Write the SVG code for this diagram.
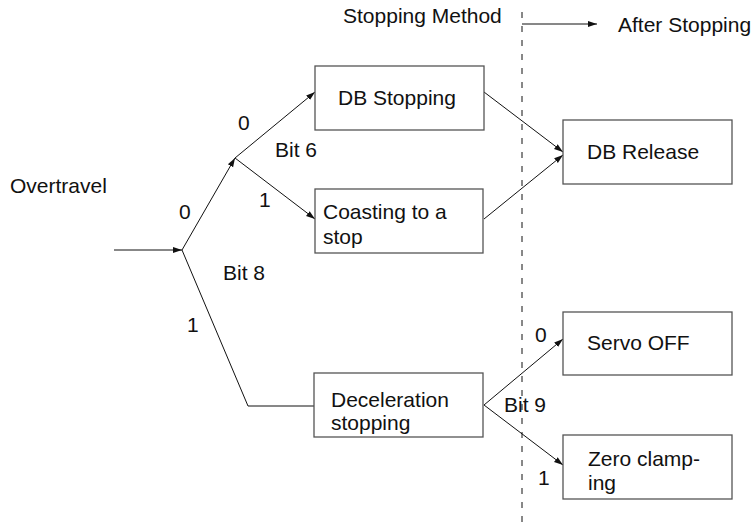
<svg xmlns="http://www.w3.org/2000/svg" width="754" height="524" viewBox="0 0 754 524">
<style>
text{font-family:"Liberation Sans",Arial,Helvetica,sans-serif;font-size:21px;fill:#111}
.box{fill:#fff;stroke:#555;stroke-width:1.3}
.ln{fill:none;stroke:#111;stroke-width:1}
.arr{marker-end:url(#ah)}
</style>
<defs>
<marker id="ah" markerUnits="userSpaceOnUse" markerWidth="10" markerHeight="8" refX="9" refY="4" orient="auto">
<path d="M0,1 L9,4 L0,7 Z" fill="#111"/>
</marker>
</defs>
<rect width="754" height="524" fill="#fff"/>
<g id="connectors">
<line class="ln" x1="522" y1="12" x2="522" y2="522" stroke-dasharray="6 8"/>
<line class="ln arr" x1="522" y1="24" x2="597" y2="24"/>
<line class="ln arr" x1="114" y1="250" x2="182" y2="250"/>
<line class="ln arr" x1="182" y1="250" x2="235" y2="158"/>
<line class="ln arr" x1="235" y1="158" x2="315" y2="92"/>
<line class="ln arr" x1="235" y1="158" x2="315" y2="219"/>
<polyline class="ln" points="182,250 248,406 314,406"/>
<line class="ln arr" x1="484" y1="92" x2="563" y2="152"/>
<line class="ln arr" x1="484" y1="219" x2="563" y2="155"/>
<line class="ln arr" x1="484" y1="405" x2="563" y2="339"/>
<line class="ln arr" x1="484" y1="405" x2="563" y2="465"/>
</g>
<g id="labels">
<text x="343" y="23">Stopping Method</text>
<text x="618" y="32">After Stopping</text>
<text x="10" y="193">Overtravel</text>
<text x="179" y="219">0</text>
<text x="223" y="280">Bit 8</text>
<text x="187" y="332">1</text>
<text x="238" y="130">0</text>
<text x="275" y="157">Bit 6</text>
<text x="259" y="207">1</text>
<text x="504" y="412">Bit 9</text>
<text x="535" y="342">0</text>
<text x="538" y="485">1</text>
</g>
<g id="db-stopping">
<rect class="box" x="315" y="66" width="169" height="64"/>
<text x="338" y="105">DB Stopping</text>
</g>
<g id="coasting">
<rect class="box" x="315" y="189" width="168" height="64"/>
<text x="323" y="219">Coasting to a</text>
<text x="323" y="244">stop</text>
</g>
<g id="db-release">
<rect class="box" x="563" y="120" width="169" height="64"/>
<text x="587" y="159">DB Release</text>
</g>
<g id="deceleration">
<rect class="box" x="314" y="373" width="169" height="64"/>
<text x="331" y="407">Deceleration</text>
<text x="331" y="430">stopping</text>
</g>
<g id="servo-off">
<rect class="box" x="563" y="312" width="169" height="63"/>
<text x="587" y="350">Servo OFF</text>
</g>
<g id="zero-clamping">
<rect class="box" x="563" y="435" width="169" height="64"/>
<text x="588" y="466">Zero clamp-</text>
<text x="588" y="490">ing</text>
</g>
</svg>
